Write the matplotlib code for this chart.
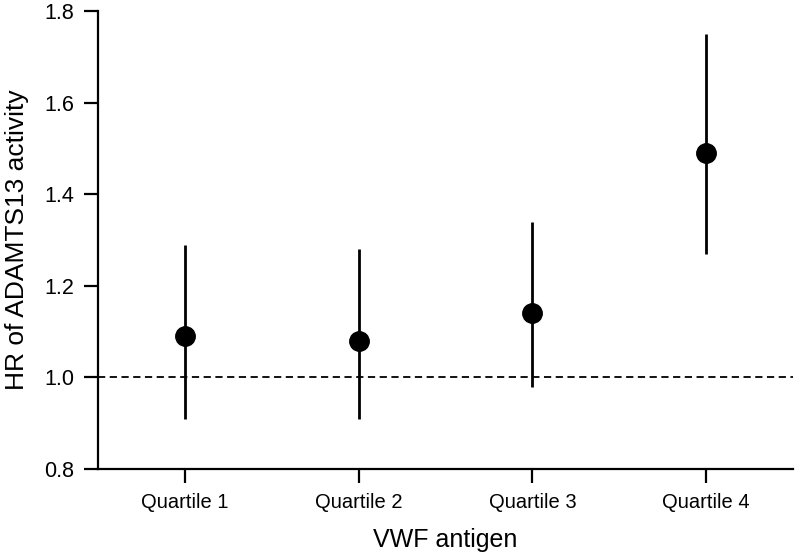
import numpy as np
import matplotlib.pyplot as plt

plt.rcParams['font.family'] = ['Liberation Sans', 'DejaVu Sans']

# VWF antigen quartiles, hazard ratio with 95% CI
quartiles = ['Quartile 1', 'Quartile 2', 'Quartile 3', 'Quartile 4']
hr = [1.09, 1.08, 1.14, 1.49]
ci_low = [0.91, 0.91, 0.98, 1.27]
ci_high = [1.29, 1.28, 1.34, 1.75]

x = np.arange(1, len(quartiles) + 1)
hr = np.array(hr)
yerr = [hr - np.array(ci_low), np.array(ci_high) - hr]

fig = plt.figure(figsize=(7.98, 5.53), dpi=100)
ax = fig.add_axes([0.1228, 0.152, 0.871, 0.828])

ax.axhline(1.0, color='black', linestyle=(0, (4, 2.5)), linewidth=1.3, zorder=1)
ax.errorbar(x, hr, yerr=yerr, fmt='o', color='black', markersize=14,
            elinewidth=2, capsize=0, zorder=3)

ax.set_xlim(0.5, 4.5)
ax.set_ylim(0.8, 1.8)
ax.set_xticks(x)
ax.set_xticklabels(quartiles)
ax.set_yticks([0.8, 1.0, 1.2, 1.4, 1.6, 1.8])
ax.set_yticklabels(['0.8', '1.0', '1.2', '1.4', '1.6', '1.8'])

ax.spines['top'].set_visible(False)
ax.spines['right'].set_visible(False)
for s in ['left', 'bottom']:
    ax.spines[s].set_linewidth(1.6)
ax.tick_params(axis='both', length=10, width=1.6, direction='out')
ax.tick_params(axis='y', labelsize=15.5, pad=7)
ax.tick_params(axis='x', labelsize=14.5, pad=7)

ax.set_xlabel('VWF antigen', fontsize=18, labelpad=12)
ax.set_ylabel('HR of ADAMTS13 activity', fontsize=19, labelpad=11)

fig.savefig('out.png', dpi=100)
